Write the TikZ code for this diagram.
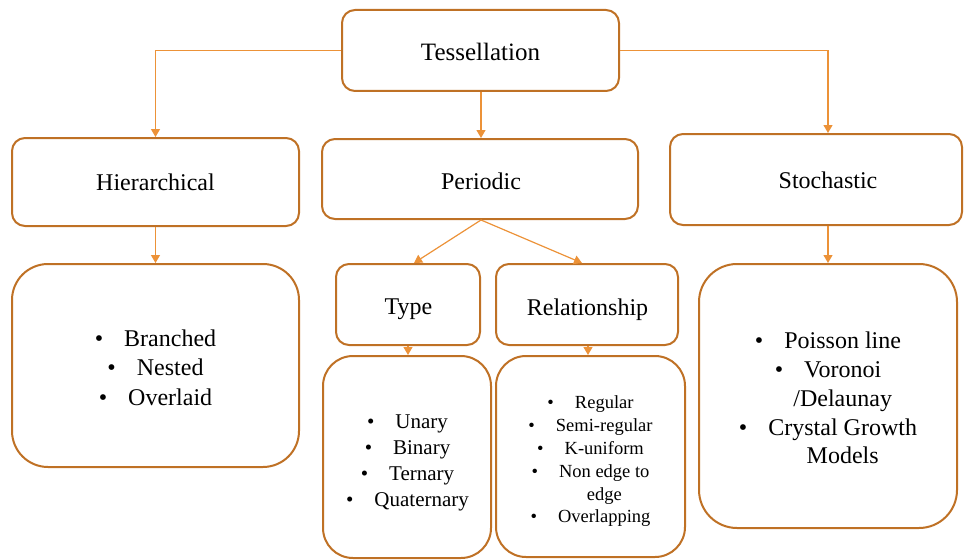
\documentclass[tikz,border=0pt]{standalone}
\usepackage{fontspec}
\setmainfont{Liberation Serif}
\usetikzlibrary{arrows.meta}
\definecolor{boxbrown}{RGB}{191,113,37}
\definecolor{linkorange}{RGB}{236,146,56}
\tikzset{
  box/.style={draw=boxbrown, line width=2pt, rounded corners=13pt, rectangle,
    inner sep=0pt, fill=white},
  listbox/.style={box, rounded corners=36pt},
  txt/.style={inner sep=0pt, align=center, font=\fontsize{24}{29.5}\selectfont},
  link/.style={draw=linkorange, line width=1.2pt, -{Triangle[length=8pt,width=9pt]}},
}
% one bulleted line, and a wrapped continuation line under it
\newcommand{\itm}[1]{\textbullet\hspace{21pt}#1}
\newcommand{\cont}[1]{\phantom{\textbullet}\hspace{21pt}#1}
\begin{document}
\begin{tikzpicture}[x=1pt,y=-1pt]
\useasboundingbox (0,0) rectangle (976,559);

% first and second levels
\node[box, minimum width=277pt, minimum height=81pt] (tess) at (480.5,50.5) {};
\node[txt, font=\fontsize{25}{30}\selectfont] (tesst) at (480.5,51.5) {Tessellation};
\node[box, minimum width=287pt, minimum height=88pt] (hier) at (155.5,182) {};
\node[txt] (hiert) at (155.5,182) {Hierarchical};
\node[box, minimum width=316pt, minimum height=80pt] (peri) at (480,179) {};
\node[txt] (perit) at (481,181) {Periodic};
\node[box, minimum width=292pt, minimum height=91pt] (stoc) at (816,179.5) {};
\node[txt] (stoct) at (828,180.5) {Stochastic};

% periodic sub-categories
\node[box, minimum width=144pt, minimum height=81pt] (type) at (408,304.5) {};
\node[txt] (typet) at (408.5,309.5) {Type};
\node[box, minimum width=182pt, minimum height=81pt] (rel) at (587,304.5) {};
\node[txt] (relt) at (587.5,309.5) {Relationship};

% lists
\node[listbox, minimum width=287pt, minimum height=203pt] (hlist) at (155.5,365.5) {};
\node[txt] (hlistt) at (155.5,367.5)
  {\itm{Branched}\\ \itm{Nested}\\ \itm{Overlaid}};
\node[listbox, rounded corners=30pt, minimum width=168pt, minimum height=202pt] (tlist) at (407,457) {};
\node[txt, font=\fontsize{21}{26}\selectfont] (tlistt) at (407.5,463)
  {\itm{Unary}\\ \itm{Binary}\\ \itm{Ternary}\\ \itm{Quaternary}};
\node[listbox, rounded corners=30pt, minimum width=189pt, minimum height=201pt] (rlist) at (590.5,456.5) {};
\node[txt, font=\fontsize{18.5}{22.8}\selectfont] (rlistt) at (590.5,461.5)
  {\itm{Regular}\\ \itm{Semi-regular}\\ \itm{K-uniform}\\ \itm{Non edge to}\\ \cont{edge}\\ \itm{Overlapping}};
\node[listbox, rounded corners=38pt, minimum width=258pt, minimum height=264pt] (slist) at (828,396) {};
\node[txt, font=\fontsize{24}{28.8}\selectfont] (slistt) at (828,398)
  {\itm{Poisson line}\\ \itm{Voronoi}\\ \cont{/Delaunay}\\ \itm{Crystal Growth}\\ \cont{Models}};

% connectors
\draw[link] (tess.west) -| (hier.north);
\draw[link] (tess.east) -| ([xshift=12pt]stoc.north);
\draw[link] ([xshift=0.5pt]tess.south) -- ([xshift=0.5pt]tess.south |- peri.north);
\draw[link] (hier.south) -- (hlist.north);
\draw[link] ([xshift=1pt]peri.south) -- ([xshift=6pt]type.north);
\draw[link] ([xshift=1pt]peri.south) -- ([xshift=-5pt]rel.north);
\draw[link] (type.south) -- (type.south |- tlist.north);
\draw[link] ([xshift=1pt]rel.south) -- ([xshift=1pt]rel.south |- rlist.north);
\draw[link] (slist.north |- stoc.south) -- (slist.north);
\end{tikzpicture}
\end{document}
